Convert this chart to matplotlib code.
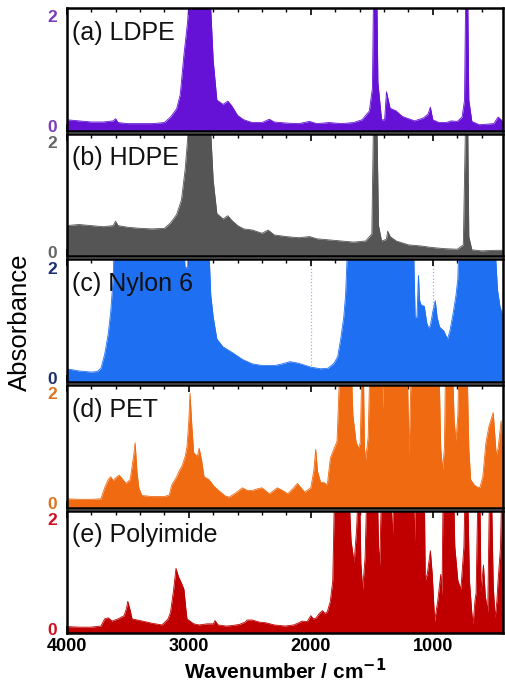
import matplotlib
matplotlib.use('Agg')
import matplotlib.pyplot as plt
from matplotlib.ticker import MultipleLocator

plt.rcParams['font.family'] = ['Liberation Sans', 'DejaVu Sans']

# IR spectra (wavenumber in cm-1, absorbance); values above 2 are clipped
ldpe_wn = [4000, 3900, 3800, 3700, 3620, 3600, 3580, 3500, 3400, 3300, 3200, 3150, 3100, 3070,
           3040, 3010, 2990, 2900, 2830, 2800, 2770, 2720, 2680, 2650, 2600, 2550, 2480, 2400,
           2340, 2300, 2200, 2100, 2010, 1950, 1850, 1750, 1650, 1580, 1520, 1495, 1485, 1460,
           1450, 1420, 1395, 1380, 1365, 1350, 1300, 1250, 1150, 1080, 1040, 1020, 1000, 950,
           890, 850, 800, 760, 740, 730, 715, 705, 680, 620, 560, 500, 465, 440, 420]
ldpe_abs = [0.12, 0.10, 0.08, 0.08, 0.10, 0.14, 0.07, 0.05, 0.05, 0.05, 0.07, 0.17, 0.32, 0.58,
            1.30, 1.90, 2.60, 2.60, 2.60, 1.20, 0.48, 0.40, 0.46, 0.38, 0.20, 0.12, 0.07, 0.07,
            0.13, 0.08, 0.06, 0.05, 0.09, 0.05, 0.07, 0.05, 0.07, 0.12, 0.28, 0.70, 2.60, 2.60,
            0.80, 0.12, 0.12, 0.63, 0.48, 0.33, 0.28, 0.18, 0.10, 0.15, 0.22, 0.35, 0.12, 0.07,
            0.07, 0.10, 0.09, 0.17, 0.48, 2.60, 2.60, 0.48, 0.09, 0.03, 0.04, 0.05, 0.17, 0.12, 0.07]

hdpe_wn = [4000, 3900, 3800, 3700, 3620, 3600, 3580, 3500, 3400, 3300, 3200, 3150, 3100, 3060,
           3030, 2990, 2830, 2800, 2770, 2720, 2680, 2650, 2600, 2550, 2480, 2400, 2350, 2300,
           2200, 2100, 2010, 1950, 1850, 1750, 1650, 1550, 1500, 1485, 1460, 1445, 1420, 1380,
           1370, 1350, 1300, 1200, 1100, 1000, 900, 800, 750, 730, 715, 705, 680, 600, 500, 420]
hdpe_abs = [0.48, 0.50, 0.48, 0.46, 0.48, 0.56, 0.48, 0.45, 0.43, 0.42, 0.43, 0.53, 0.68, 0.95,
            1.50, 2.60, 2.60, 1.30, 0.70, 0.60, 0.66, 0.58, 0.48, 0.42, 0.40, 0.34, 0.40, 0.31,
            0.28, 0.26, 0.28, 0.24, 0.22, 0.20, 0.18, 0.20, 0.33, 2.60, 2.60, 0.48, 0.20, 0.23,
            0.38, 0.28, 0.20, 0.13, 0.11, 0.08, 0.06, 0.05, 0.13, 2.60, 2.60, 0.28, 0.04, 0.02, 0.03, 0.03]

nylon_wn = [4000, 3900, 3800, 3750, 3720, 3690, 3660, 3640, 3620, 3610, 3050, 3030, 3010, 3000,
            2840, 2820, 2800, 2770, 2720, 2640, 2560, 2480, 2400, 2300, 2250, 2170, 2100, 2000,
            1920, 1860, 1810, 1780, 1755, 1730, 1715, 1695, 1160, 1145, 1130, 1118, 1108, 1095,
            1070, 1050, 1035, 1020, 1000, 980, 965, 945, 910, 880, 860, 835, 810, 795, 785,
            495, 470, 450, 430, 420]
nylon_abs = [0.16, 0.12, 0.10, 0.11, 0.17, 0.42, 0.80, 1.20, 1.80, 2.60, 2.60, 2.00, 2.00, 2.60,
             2.60, 1.50, 1.10, 0.70, 0.56, 0.45, 0.33, 0.25, 0.22, 0.22, 0.24, 0.29, 0.26, 0.19,
             0.16, 0.17, 0.26, 0.38, 0.70, 1.10, 1.50, 2.60, 2.60, 1.10, 1.10, 1.86, 1.40, 1.32,
             1.30, 1.00, 0.90, 0.95, 1.20, 1.40, 1.10, 0.92, 0.85, 0.70, 0.85, 1.15, 1.50, 1.80, 2.60,
             2.60, 1.60, 1.30, 1.15, 1.07]

pet_wn = [4000, 3900, 3800, 3720, 3690, 3660, 3640, 3620, 3590, 3570, 3540, 3515, 3480, 3450,
          3440, 3425, 3410, 3385, 3300, 3200, 3160, 3140, 3100, 3080, 3055, 3030, 3015, 3000,
          2990, 2975, 2960, 2930, 2915, 2895, 2875, 2835, 2790, 2750, 2700, 2670, 2620, 2560,
          2520, 2480, 2440, 2400, 2340, 2275, 2230, 2190, 2140, 2110, 2080, 2050, 2000, 1975,
          1960, 1945, 1920, 1895, 1865, 1840, 1785, 1760, 1670, 1655, 1630, 1610, 1595, 1580,
          1570, 1560, 1550, 1530, 1515, 1420, 1410, 1400, 1210, 1195, 1175, 950, 935, 920, 905,
          895, 840, 825, 810, 795, 785, 720, 705, 690, 660, 640, 615, 590, 565, 540, 505, 480,
          465, 440, 425, 420]
pet_abs = [0.08, 0.07, 0.07, 0.08, 0.28, 0.43, 0.48, 0.41, 0.48, 0.51, 0.43, 0.36, 0.43, 0.90,
           1.10, 0.58, 0.28, 0.14, 0.12, 0.12, 0.15, 0.33, 0.48, 0.58, 0.68, 0.85, 1.02, 1.50,
           2.00, 1.40, 0.92, 0.85, 1.00, 0.78, 0.48, 0.43, 0.30, 0.22, 0.13, 0.11, 0.18, 0.28,
           0.23, 0.23, 0.26, 0.28, 0.17, 0.28, 0.23, 0.17, 0.28, 0.36, 0.28, 0.20, 0.28, 0.60,
           0.98, 0.58, 0.38, 0.38, 0.33, 0.82, 1.13, 2.60, 2.60, 1.60, 1.13, 1.00, 1.10, 2.60,
           2.60, 1.00, 0.80, 1.20, 2.60, 2.60, 1.70, 2.60, 2.60, 0.87, 2.60, 2.60, 1.00, 0.61, 1.00,
           2.60, 2.60, 1.50, 1.13, 1.60, 2.60, 2.60, 1.00, 0.43, 0.33, 0.30, 0.28, 0.48, 1.10, 1.40,
           1.65, 0.87, 1.00, 1.50, 1.00, 0.80]

pi_wn = [4000, 3900, 3800, 3720, 3690, 3660, 3630, 3580, 3530, 3510, 3500, 3480, 3465, 3380,
         3300, 3220, 3170, 3150, 3125, 3105, 3085, 3060, 3040, 3025, 3015, 2960, 2915, 2850,
         2800, 2785, 2760, 2695, 2640, 2585, 2540, 2520, 2480, 2420, 2370, 2300, 2210, 2140,
         2070, 2030, 2000, 1980, 1960, 1930, 1905, 1885, 1865, 1840, 1820, 1805, 1690, 1670,
         1645, 1625, 1610, 1600, 1590, 1575, 1555, 1540, 1455, 1445, 1435, 1420, 1345, 1335,
         1330, 1320, 1160, 1150, 1140, 1070, 1062, 1045, 1020, 1005, 985, 960, 935, 925, 915,
         830, 820, 795, 770, 745, 735, 715, 700, 680, 670, 655, 645, 630, 615, 605, 585, 570,
         550, 535, 520, 505, 490, 475, 465, 445, 435, 420]
pi_abs = [0.04, 0.03, 0.03, 0.05, 0.18, 0.20, 0.14, 0.18, 0.24, 0.38, 0.50, 0.33, 0.18, 0.14,
          0.10, 0.07, 0.18, 0.30, 0.70, 1.10, 0.95, 0.83, 0.72, 0.38, 0.18, 0.09, 0.07, 0.09,
          0.09, 0.15, 0.07, 0.05, 0.06, 0.08, 0.12, 0.16, 0.16, 0.12, 0.11, 0.07, 0.05, 0.07,
          0.14, 0.13, 0.24, 0.18, 0.19, 0.28, 0.33, 0.28, 0.31, 0.50, 0.88, 2.60, 2.60, 1.60,
          1.20, 1.80, 2.60, 2.60, 1.20, 0.72, 1.30, 2.60, 2.60, 1.50, 1.16, 2.60, 2.60, 1.90,
          1.70, 2.60, 2.60, 1.58, 2.60, 2.60, 0.88, 1.00, 1.42, 1.00, 0.14, 0.50, 0.99, 0.60, 2.60,
          2.60, 1.50, 0.88, 0.72, 1.50, 2.60, 2.60, 0.88, 0.28, 0.08, 0.50, 0.66, 2.60, 2.60, 0.66,
          1.16, 0.60, 0.31, 2.60, 2.60, 0.80, 0.20, 0.50, 0.88, 1.50, 2.60, 2.60]

labels = ['(a) LDPE', '(b) HDPE', '(c) Nylon 6', '(d) PET', '(e) Polyimide']
fill_colors = ['#6512d6', '#555555', '#1f6ff2', '#f06a12', '#c00000']
tick_colors = ['#7d3bb8', '#666666', '#1b2f72', '#e0731e', '#cc1020']
spectra = [(ldpe_wn, ldpe_abs), (hdpe_wn, hdpe_abs), (nylon_wn, nylon_abs),
           (pet_wn, pet_abs), (pi_wn, pi_abs)]

fig, axes = plt.subplots(5, 1, figsize=(5.06, 6.86), dpi=100, sharex=True)
fig.subplots_adjust(left=0.132, right=0.994, top=0.988, bottom=0.077, hspace=0.025)

for i, ax in enumerate(axes):
    wn, ab = spectra[i]
    ax.fill_between(wn, ab, -0.3, color=fill_colors[i], lw=0, zorder=2)
    ax.plot(wn, ab, color=fill_colors[i], lw=0.6, zorder=2)
    if i == 2:
        # faint dotted guide lines in the nylon panel
        for xv in [2000, 1000]:
            ax.axvline(xv, color='#a8a8f0', lw=0.9, ls=':', zorder=1)

    ax.set_xlim(4000, 425)
    ax.set_ylim(-0.08, 2.15)
    ax.set_yticks([0, 2])
    ax.set_yticklabels(['0', '2'], fontsize=12.5, fontweight='bold', color=tick_colors[i])
    ax.tick_params(axis='y', length=0, pad=7)

    ax.xaxis.set_major_locator(MultipleLocator(1000))
    ax.xaxis.set_minor_locator(MultipleLocator(200))
    ax.tick_params(axis='x', which='major', direction='in', top=True, bottom=True,
                   length=5, width=1.2)
    ax.tick_params(axis='x', which='minor', direction='in', top=True, bottom=True,
                   length=3, width=1.0)
    for sp in ax.spines.values():
        sp.set_linewidth(1.8)
        sp.set_zorder(5)

    ax.text(0.012, 0.80, labels[i], transform=ax.transAxes, fontsize=18,
            ha='left', va='center', color='#111111', zorder=6)

axes[-1].set_xticks([4000, 3000, 2000, 1000])
axes[-1].set_xticklabels(['4000', '3000', '2000', '1000'], fontsize=13, fontweight='bold')
axes[-1].set_xlabel('Wavenumber / cm$^{\\mathbf{-1}}$', fontsize=15, fontweight='bold', labelpad=2)
fig.text(0.04, 0.53, 'Absorbance', rotation=90, fontsize=18.5, ha='center', va='center')

plt.savefig('out.png', dpi=100)
